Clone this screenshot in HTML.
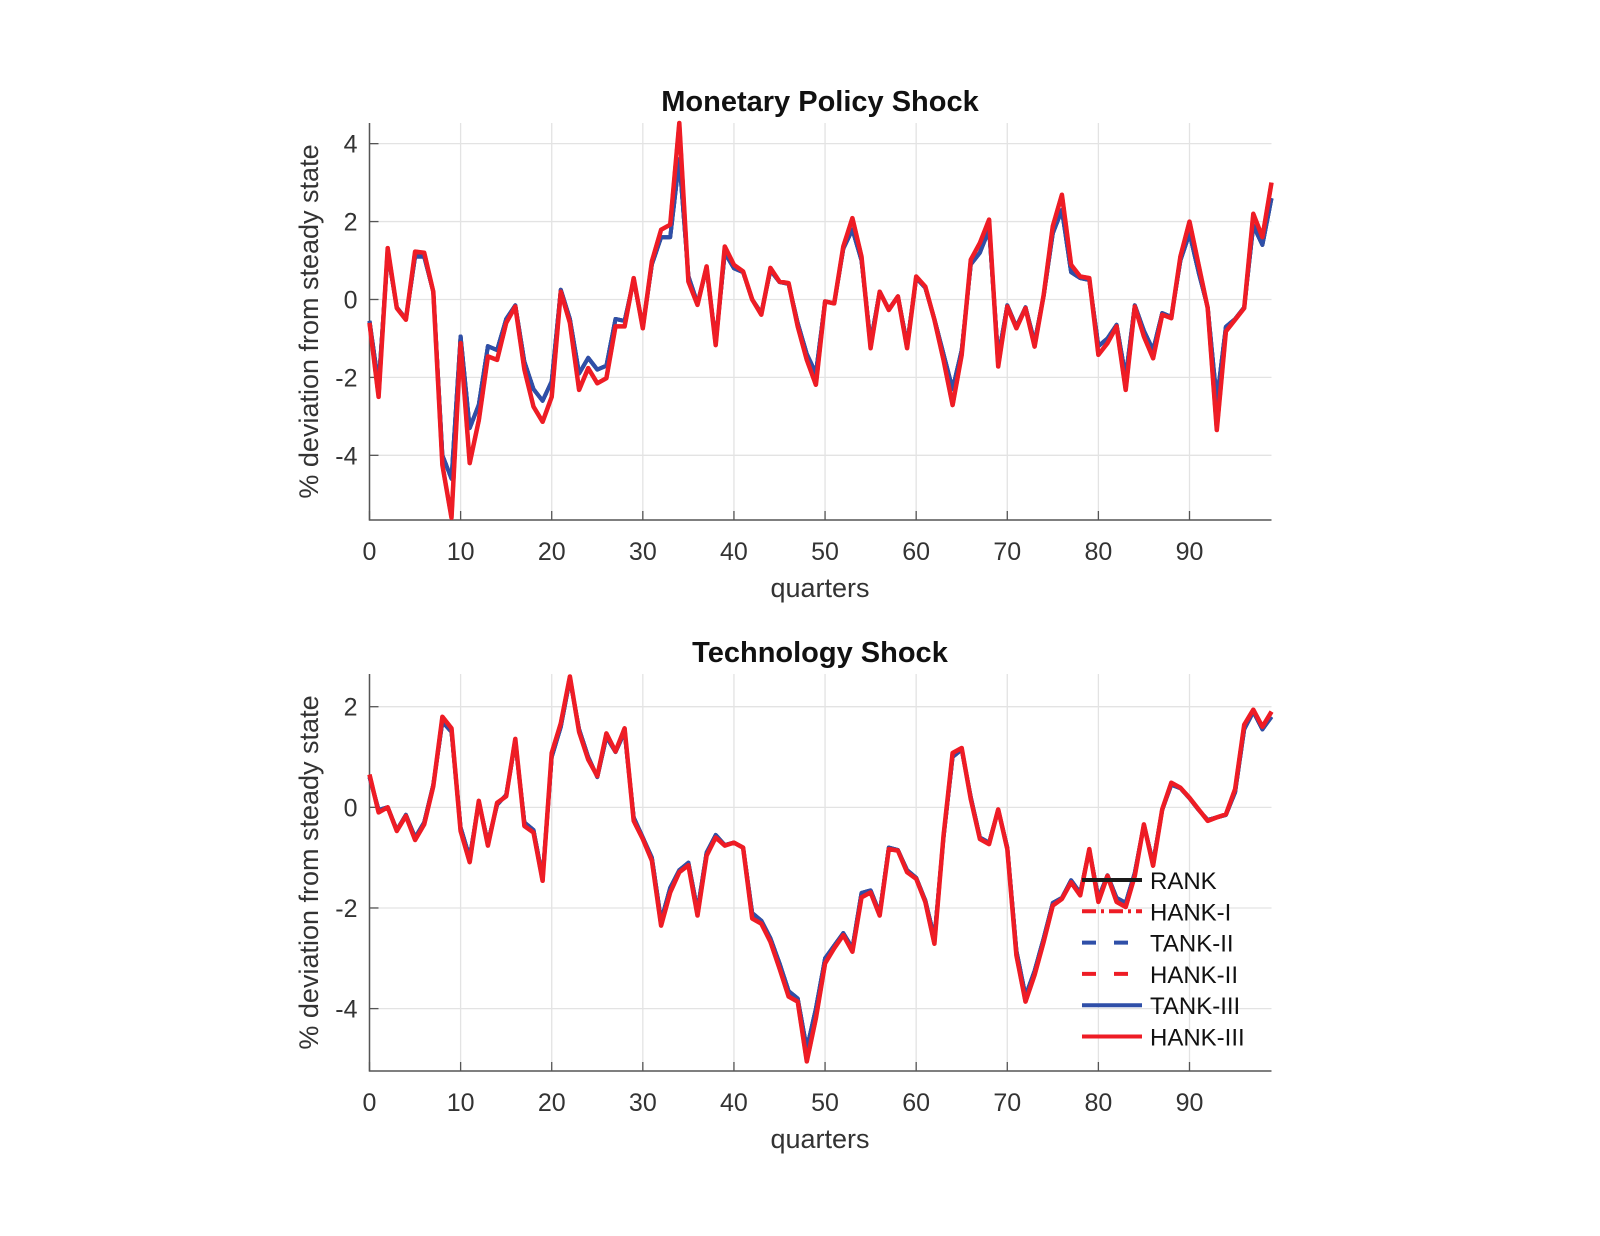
<!DOCTYPE html>
<html><head><meta charset="utf-8"><style>
html,body{margin:0;padding:0;background:#fff;}
svg{display:block;font-family:"Liberation Sans",Arial,sans-serif;}
</style></head><body>
<svg id="fig" width="1600" height="1236" viewBox="0 0 1600 1236" xmlns="http://www.w3.org/2000/svg">
<rect width="1600" height="1236" fill="#fff"/>
</svg>
<script>
const quarters = Array.from({length:100},(_,i)=>i);
const xTicks = [0,10,20,30,40,50,60,70,80,90];
const yTicksTop = [-4,-2,0,2,4];
const yTicksBot = [-4,-2,0,2];
const hankTop = [-0.6,-2.5,1.32,-0.22,-0.52,1.23,1.2,0.2,-4.25,-5.6,-1.12,-4.2,-3.1,-1.46,-1.55,-0.6,-0.18,-1.8,-2.75,-3.14,-2.5,0.2,-0.6,-2.32,-1.76,-2.15,-2.02,-0.69,-0.69,0.55,-0.74,0.98,1.79,1.92,4.53,0.46,-0.14,0.85,-1.17,1.36,0.89,0.72,0,-0.39,0.81,0.46,0.42,-0.69,-1.55,-2.19,-0.05,-0.1,1.36,2.09,1.1,-1.25,0.2,-0.27,0.08,-1.25,0.59,0.33,-0.52,-1.55,-2.71,-1.42,1.02,1.45,2.05,-1.72,-0.18,-0.74,-0.22,-1.21,0.12,1.88,2.69,0.89,0.59,0.55,-1.42,-1.12,-0.69,-2.32,-0.18,-0.95,-1.51,-0.39,-0.48,1.1,2.0,0.89,-0.22,-3.35,-0.82,-0.52,-0.22,2.2,1.6,3.0];
const rankTop = [-0.55,-2.2,1.2,-0.2,-0.5,1.1,1.1,0.2,-4.0,-4.6,-0.95,-3.3,-2.7,-1.2,-1.3,-0.5,-0.15,-1.6,-2.3,-2.6,-2.1,0.25,-0.5,-1.9,-1.5,-1.8,-1.7,-0.5,-0.55,0.5,-0.7,0.9,1.6,1.6,3.6,0.6,-0.1,0.8,-1.1,1.2,0.8,0.7,0,-0.35,0.75,0.45,0.4,-0.6,-1.4,-1.9,-0.05,-0.1,1.3,1.8,1.0,-1.1,0.2,-0.25,0.08,-1.15,0.55,0.3,-0.5,-1.4,-2.3,-1.3,0.9,1.2,1.8,-1.5,-0.15,-0.7,-0.2,-1.1,0.1,1.7,2.3,0.7,0.55,0.5,-1.2,-1.0,-0.65,-2.0,-0.15,-0.8,-1.3,-0.35,-0.45,1.0,1.7,0.7,-0.2,-2.6,-0.7,-0.5,-0.2,1.9,1.4,2.6];
const hankBot = [0.65,-0.1,0.0,-0.47,-0.17,-0.65,-0.34,0.42,1.8,1.57,-0.47,-1.09,0.13,-0.76,0.09,0.22,1.36,-0.37,-0.5,-1.46,1.08,1.67,2.6,1.5,0.95,0.62,1.47,1.11,1.57,-0.27,-0.63,-1.06,-2.35,-1.69,-1.29,-1.15,-2.15,-0.96,-0.6,-0.76,-0.7,-0.8,-2.21,-2.31,-2.67,-3.2,-3.76,-3.86,-5.05,-4.19,-3.1,-2.8,-2.54,-2.87,-1.79,-1.69,-2.15,-0.83,-0.86,-1.29,-1.42,-1.88,-2.71,-0.57,1.08,1.18,0.16,-0.63,-0.73,-0.04,-0.83,-2.94,-3.86,-3.33,-2.67,-1.95,-1.82,-1.49,-1.75,-0.83,-1.88,-1.36,-1.88,-1.98,-1.36,-0.34,-1.16,-0.04,0.49,0.39,0.19,-0.04,-0.27,-0.2,-0.14,0.36,1.64,1.94,1.6,1.9];
const rankBot = [0.6,-0.05,0.0,-0.45,-0.15,-0.6,-0.3,0.45,1.7,1.5,-0.4,-1.0,0.1,-0.7,0.05,0.25,1.3,-0.3,-0.45,-1.4,1.0,1.6,2.55,1.55,1.0,0.6,1.4,1.1,1.5,-0.2,-0.6,-1.0,-2.25,-1.6,-1.25,-1.1,-2.05,-0.9,-0.55,-0.75,-0.7,-0.8,-2.1,-2.25,-2.6,-3.1,-3.65,-3.8,-4.8,-4.0,-3.0,-2.75,-2.5,-2.8,-1.7,-1.65,-2.1,-0.8,-0.85,-1.25,-1.4,-1.85,-2.6,-0.6,1.0,1.15,0.2,-0.6,-0.7,-0.05,-0.8,-2.85,-3.75,-3.25,-2.6,-1.9,-1.8,-1.45,-1.7,-0.85,-1.8,-1.35,-1.8,-1.9,-1.3,-0.35,-1.1,-0.05,0.45,0.38,0.18,-0.05,-0.25,-0.2,-0.15,0.3,1.55,1.9,1.55,1.8];

const NS="http://www.w3.org/2000/svg";
const svg=document.getElementById('fig');
function mk(tag,attrs,parent){const e=document.createElementNS(NS,tag);for(const k in attrs)e.setAttribute(k,attrs[k]);(parent||svg).appendChild(e);return e;}

function panel(cfg){
  const g=mk('g',{});
  
  
  const L=369.5,R=1271.5,T=cfg.top,B=cfg.bottom;
  const xs=v=>L+(v-0)/(99-0)*(R-L);
  const ys=v=>B-(v-cfg.ymin)/(cfg.ymax-cfg.ymin)*(B-T);
  xTicks.forEach(t=>{
    const l=mk('line',{x1:xs(t),x2:xs(t),y1:T,y2:B,stroke:'#e3e3e3','stroke-width':1.3},g);
    
    
    const tk=mk('line',{x1:xs(t),x2:xs(t),y1:B,y2:B-9,stroke:'#555','stroke-width':1.3},g);
    
    
    const tx=mk('text',{x:xs(t),y:B+40,'text-anchor':'middle','font-size':25,fill:'#333'},g);
    tx.textContent=t;
    
    
  });
  cfg.yticks.forEach(t=>{
    const l=mk('line',{x1:L,x2:R,y1:ys(t),y2:ys(t),stroke:'#e3e3e3','stroke-width':1.3},g);
    
    
    const tk=mk('line',{x1:L,x2:L+9,y1:ys(t),y2:ys(t),stroke:'#555','stroke-width':1.3},g);
    
    
    const tx=mk('text',{x:L-12,y:ys(t)+9,'text-anchor':'end','font-size':25,fill:'#333'},g);
    tx.textContent=t;
    
    
  });
  const ax=mk('path',{d:`M${L},${T} L${L},${B} L${R},${B}`,fill:'none',stroke:'#555','stroke-width':1.5},g);
  
  
  const series=[
    {n:'rank-line',d:cfg.rank,c:'#1a1a1a',w:4,dash:''},
    {n:'hank-i-line',d:cfg.hank,c:'#ee1c25',w:4,dash:'14 5 3 5'},
    {n:'tank-ii-line',d:cfg.rank,c:'#2f4fa8',w:4,dash:'12 8'},
    {n:'hank-ii-line',d:cfg.hank,c:'#ee1c25',w:4,dash:'12 8'},
    {n:'tank-iii-line',d:cfg.rank,c:'#2f4fa8',w:4,dash:''},
    {n:'hank-iii-line',d:cfg.hank,c:'#ee1c25',w:4.5,dash:''}
  ];
  series.forEach(s=>{
    const pts=quarters.map((q,i)=>xs(q).toFixed(1)+','+ys(s.d[i]).toFixed(1)).join(' ');
    const p=mk('polyline',{points:pts,fill:'none',stroke:s.c,'stroke-width':s.w,'stroke-linejoin':'round','stroke-dasharray':s.dash},g);
    
    
  });
  const ti=mk('text',{x:820,y:T-12,'text-anchor':'middle','font-size':29,'font-weight':'bold',fill:'#111'},g);
  ti.textContent=cfg.title;
  
  
  const xl=mk('text',{x:820,y:B+77,'text-anchor':'middle','font-size':27,fill:'#333'},g);
  xl.textContent='quarters';
  
  
  const cy=(T+B)/2;
  const yl=mk('text',{x:0,y:0,transform:`translate(318,${cy}) rotate(-90)`,'text-anchor':'middle','font-size':27,fill:'#333'},g);
  yl.textContent='% deviation from steady state';
  
  
}
panel({name:'monetary-policy-panel',title:'Monetary Policy Shock',top:123,bottom:520,ymin:-5.66,ymax:4.53,yticks:yTicksTop,hank:hankTop,rank:rankTop});
panel({name:'technology-panel',title:'Technology Shock',top:674,bottom:1071,ymin:-5.24,ymax:2.65,yticks:yTicksBot,hank:hankBot,rank:rankBot});

const legendNames=['RANK','HANK-I','TANK-II','HANK-II','TANK-III','HANK-III'];
const legStyles=[['#1a1a1a',''],['#ee1c25','14 5 3 5'],['#2f4fa8','14 18'],['#ee1c25','14 18'],['#2f4fa8',''],['#ee1c25','']];
const lg=mk('g',{});


legendNames.forEach((nm,i)=>{
  const y=880+i*31.3;
  const ln=mk('line',{x1:1082,x2:1142,y1:y,y2:y,stroke:legStyles[i][0],'stroke-width':4,'stroke-dasharray':legStyles[i][1]},lg);
  
  
  const t=mk('text',{x:1150,y:y+9,'font-size':24,fill:'#111'},lg);
  t.textContent=nm;
  
  
});
</script>
</body></html>
